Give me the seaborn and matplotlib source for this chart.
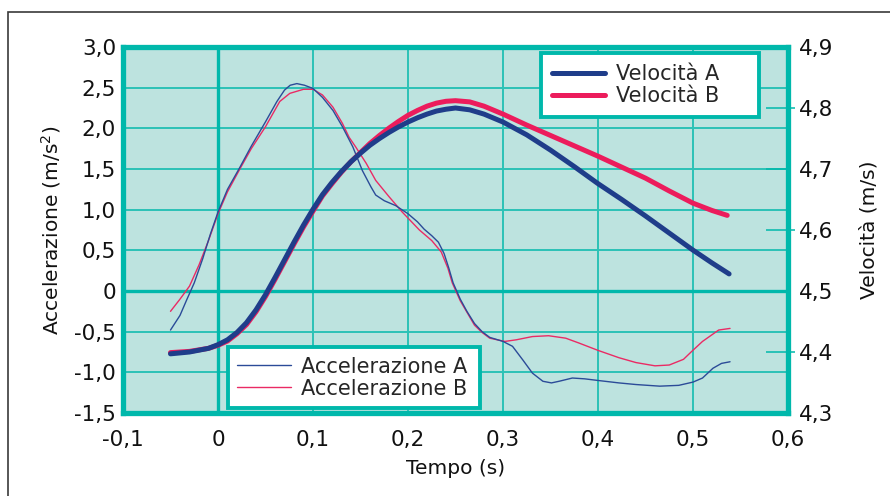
import matplotlib
matplotlib.use("Agg")
import matplotlib.pyplot as plt
import seaborn as sns
from matplotlib.patches import Rectangle
from matplotlib.ticker import FixedLocator

# Dati
t_acc_a = [-0.05, -0.04, -0.033, -0.025, -0.016, -0.008, 0.0, 0.01, 0.023, 0.035,
           0.05, 0.062, 0.07, 0.076, 0.083, 0.091, 0.1, 0.11, 0.121, 0.131,
           0.142, 0.152, 0.161, 0.166, 0.175, 0.187, 0.2, 0.21, 0.217, 0.225,
           0.232, 0.238, 0.243, 0.2475, 0.255, 0.262, 0.27, 0.278, 0.286, 0.3,
           0.31, 0.321, 0.331, 0.342, 0.351, 0.359, 0.373, 0.386, 0.4, 0.422,
           0.44, 0.465, 0.485, 0.5, 0.51, 0.521, 0.53, 0.539]
acc_a = [-0.48, -0.30, -0.11, 0.10, 0.40, 0.70, 0.97, 1.25, 1.52, 1.78,
         2.08, 2.33, 2.47, 2.53, 2.55, 2.53, 2.49, 2.38, 2.22, 2.02,
         1.77, 1.48, 1.28, 1.18, 1.11, 1.05, 0.95, 0.85, 0.76, 0.68,
         0.60, 0.46, 0.28, 0.10, -0.10, -0.25, -0.40, -0.50, -0.57, -0.62,
         -0.68, -0.85, -1.01, -1.11, -1.13, -1.11, -1.07, -1.08, -1.10, -1.13,
         -1.15, -1.17, -1.16, -1.12, -1.07, -0.95, -0.89, -0.87]

t_acc_b = [-0.05, -0.04, -0.03, -0.02, -0.01, 0.0, 0.01, 0.023, 0.035, 0.05,
           0.065, 0.0756, 0.09, 0.1, 0.11, 0.121, 0.131, 0.138, 0.145, 0.156,
           0.166, 0.18, 0.194, 0.212, 0.225, 0.235, 0.242, 0.2466, 0.255, 0.262,
           0.27, 0.278, 0.286, 0.302, 0.314, 0.331, 0.348, 0.366, 0.38, 0.4,
           0.422, 0.44, 0.46, 0.475, 0.49, 0.498, 0.51, 0.527, 0.539]
acc_b = [-0.25, -0.10, 0.06, 0.32, 0.62, 0.95, 1.22, 1.50, 1.75, 2.02,
         2.33, 2.43, 2.48, 2.48, 2.41, 2.26, 2.06, 1.89, 1.77, 1.57,
         1.36, 1.16, 0.97, 0.75, 0.62, 0.48, 0.28, 0.10, -0.12, -0.26,
         -0.42, -0.51, -0.58, -0.62, -0.60, -0.56, -0.55, -0.58, -0.64, -0.73,
         -0.82, -0.88, -0.92, -0.91, -0.84, -0.75, -0.62, -0.48, -0.46]

t_vel_a = [-0.05, -0.03, -0.01, 0.0, 0.01, 0.02, 0.03, 0.04, 0.05, 0.06,
           0.07, 0.08, 0.09, 0.1, 0.11, 0.12, 0.13, 0.14, 0.15, 0.16,
           0.17, 0.18, 0.19, 0.2, 0.21, 0.22, 0.23, 0.24, 0.25, 0.265,
           0.28, 0.3, 0.325, 0.35, 0.375, 0.4, 0.425, 0.45, 0.475, 0.5,
           0.52, 0.538]
vel_a = [4.397, 4.400, 4.406, 4.412, 4.420, 4.432, 4.448, 4.469, 4.494, 4.522,
         4.551, 4.580, 4.608, 4.634, 4.658, 4.678, 4.696, 4.712, 4.726, 4.739,
         4.750, 4.760, 4.769, 4.777, 4.784, 4.790, 4.795, 4.798, 4.800, 4.797,
         4.790, 4.777, 4.756, 4.731, 4.704, 4.676, 4.650, 4.623, 4.595, 4.567,
         4.546, 4.528]

t_vel_b = [-0.05, -0.03, -0.01, 0.0, 0.01, 0.02, 0.03, 0.04, 0.05, 0.06,
           0.07, 0.08, 0.09, 0.1, 0.11, 0.12, 0.13, 0.14, 0.15, 0.16,
           0.17, 0.18, 0.19, 0.2, 0.21, 0.22, 0.23, 0.24, 0.25, 0.265,
           0.28, 0.3, 0.325, 0.35, 0.375, 0.4, 0.425, 0.45, 0.475, 0.5,
           0.52, 0.536]
vel_b = [4.399, 4.401, 4.406, 4.411, 4.418, 4.430, 4.445, 4.466, 4.491, 4.519,
         4.548, 4.577, 4.605, 4.631, 4.656, 4.676, 4.695, 4.712, 4.727, 4.742,
         4.755, 4.767, 4.778, 4.788, 4.796, 4.803, 4.808, 4.811, 4.812, 4.810,
         4.803, 4.790, 4.772, 4.755, 4.738, 4.721, 4.703, 4.685, 4.664, 4.644,
         4.632, 4.624]

x_ticks = [-0.1, 0.0, 0.1, 0.2, 0.3, 0.4, 0.5, 0.6]
x_labels = ["-0,1", "0", "0,1", "0,2", "0,3", "0,4", "0,5", "0,6"]
acc_ticks = [-1.5, -1.0, -0.5, 0.0, 0.5, 1.0, 1.5, 2.0, 2.5, 3.0]
acc_labels = ["-1,5", "-1,0", "-0,5", "0", "0,5", "1,0", "1,5", "2,0", "2,5", "3,0"]
vel_ticks = [4.3, 4.4, 4.5, 4.6, 4.7, 4.8, 4.9]
vel_labels = ["4,3", "4,4", "4,5", "4,6", "4,7", "4,8", "4,9"]
vel_marks = [4.4, 4.6, 4.8]

# Colori
teal = "#00b8ab"
grid_teal = "#2cc2b6"
bg = "#bde3df"
blue = "#1f3d8a"
red = "#ec1c5c"
blue_thin = "#2b4b98"
red_thin = "#ea2a64"
txt = "#111111"

sns.set_theme(style="white")
plt.rcParams["font.family"] = ["DejaVu Sans"]

fig = plt.figure(figsize=(8.9, 4.96), dpi=100)
ax = fig.add_axes([123 / 890, 1 - 413 / 496, 665 / 890, 366 / 496])
ax.set_facecolor(bg)

# Cornice della figura
fig.patches.append(Rectangle((8 / 890, -0.1), 1.2, 1.1 - 12 / 496, transform=fig.transFigure,
                             fill=False, edgecolor="#3a3a3a", linewidth=1.2))

sns.lineplot(x=t_acc_b, y=acc_b, ax=ax, color=red_thin, linewidth=1.0, estimator=None, label="Accelerazione B")
sns.lineplot(x=t_acc_a, y=acc_a, ax=ax, color=blue_thin, linewidth=1.0, estimator=None, label="Accelerazione A")

ax.set_xlim(-0.1, 0.6)
ax.set_ylim(-1.5, 3.0)
ax.set_xticks(x_ticks)
ax.set_xticklabels(x_labels)
ax.set_yticks(acc_ticks)
ax.set_yticklabels(acc_labels)
ax.tick_params(axis="both", length=0, labelsize=15.5, colors=txt)
ax.tick_params(axis="x", pad=12)
ax.tick_params(axis="y", pad=5)
ax.grid(True, color=grid_teal, linewidth=1.4)
ax.axhline(0, color=teal, linewidth=2.4, zorder=1.5)
ax.axvline(0, color=teal, linewidth=2.4, zorder=1.5)
for s in ax.spines.values():
    s.set_color(teal)
    s.set_linewidth(3.8)
ax.set_xlabel("Tempo (s)", fontsize=14.5, labelpad=7, color=txt)
ax.set_ylabel("Accelerazione (m/s$^2$)", fontsize=14.5, labelpad=8, color=txt)
acc_handles, acc_lbls = ax.get_legend_handles_labels()
ax.get_legend().remove()

ax2 = ax.twinx()
sns.lineplot(x=t_vel_b, y=vel_b, ax=ax2, color=red, linewidth=3.6, estimator=None, label="Velocità B")
sns.lineplot(x=t_vel_a, y=vel_a, ax=ax2, color=blue, linewidth=3.6, estimator=None, label="Velocità A")
ax2.set_ylim(4.3, 4.9)
ax2.set_yticks(vel_ticks)
ax2.set_yticklabels(vel_labels)
ax2.yaxis.set_minor_locator(FixedLocator(vel_marks))
ax2.yaxis.remove_overlapping_locs = False
ax2.tick_params(axis="y", which="major", direction="in", length=16, width=1.1,
                labelsize=15.5, pad=8, labelcolor=txt, color=teal)
ax2.tick_params(axis="y", which="minor", direction="out", length=5, width=1.1, color=teal, right=True)
for s in ax2.spines.values():
    s.set_visible(False)
ax2.set_ylabel("Velocità (m/s)", fontsize=14.5, labelpad=19, color=txt)
vel_handles, vel_lbls = ax2.get_legend_handles_labels()
ax2.get_legend().remove()

leg_kw = dict(frameon=True, fancybox=False, framealpha=1, facecolor="white", edgecolor=teal,
              fontsize=15, handlelength=2.55, handletextpad=0.5, borderaxespad=0, mode="expand")
leg_acc = ax2.legend([acc_handles[1], acc_handles[0]], [acc_lbls[1], acc_lbls[0]],
                     loc="lower left", bbox_to_anchor=(0.158, 0.0137, 0.379, 0.169),
                     labelspacing=0.1, borderpad=0.45, **leg_kw)
leg_acc.get_frame().set_linewidth(2.8)
ax2.add_artist(leg_acc)
leg_vel = ax2.legend([vel_handles[1], vel_handles[0]], [vel_lbls[1], vel_lbls[0]],
                     loc="upper left", bbox_to_anchor=(0.629, 0.79, 0.327, 0.194),
                     labelspacing=0.1, borderpad=0.53, **leg_kw)
leg_vel.get_frame().set_linewidth(2.8)

fig.savefig("out.png", dpi=100)
